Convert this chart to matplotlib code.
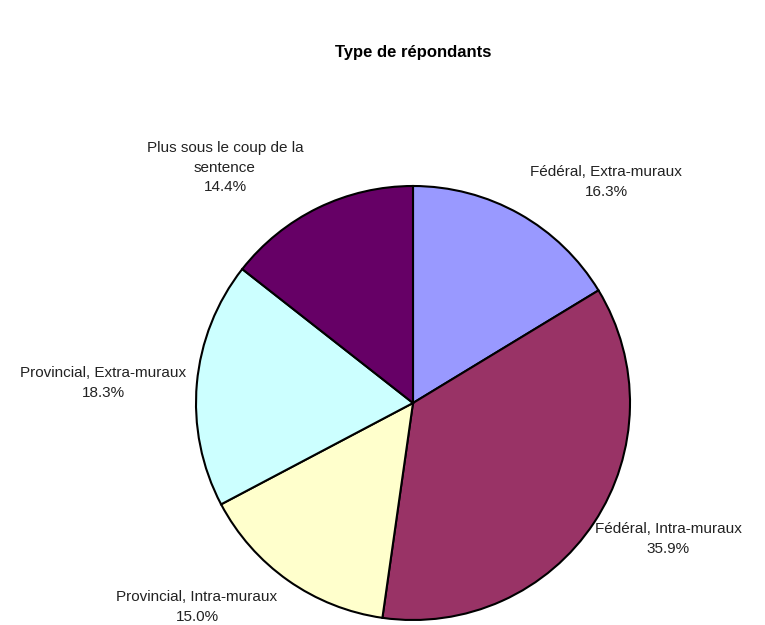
import matplotlib.pyplot as plt

plt.rcParams["font.family"] = ["Liberation Sans", "DejaVu Sans"]

categories = ["Fédéral, Extra-muraux", "Fédéral, Intra-muraux",
              "Provincial, Intra-muraux", "Provincial, Extra-muraux",
              "Plus sous le coup de la\nsentence"]
values = [16.3, 35.9, 15.0, 18.3, 14.4]
colors = ["#9999FF", "#993366", "#FFFFCC", "#CCFFFF", "#660066"]

# label centres in pixels of the 765x625 figure
label_px = [(606, 182), (668, 539), (197, 607), (103, 383), (225, 168)]

W, H = 765, 625
cx, cy, r = 413, 403, 217

fig = plt.figure(figsize=(W / 100, H / 100), dpi=100)
ax = fig.add_axes([(cx - r) / W, (H - cy - r) / H, 2 * r / W, 2 * r / H])

ax.pie(values, colors=colors, startangle=90, counterclock=False, radius=1,
       wedgeprops=dict(edgecolor="black", linewidth=1.5))
ax.set_xlim(-1, 1)
ax.set_ylim(-1, 1)
ax.set_aspect("equal")
ax.axis("off")

for name, v, (px, py) in zip(categories, values, label_px):
    fig.text(px / W, 1 - py / H, f"{name}\n{v:.1f}%", ha="center", va="center",
             fontsize=11, color="#222222", linespacing=1.5)

fig.text(413 / W, 1 - 52 / H, "Type de répondants", ha="center", va="center",
         fontsize=12, fontweight="bold")

fig.savefig("out.png", dpi=100)
